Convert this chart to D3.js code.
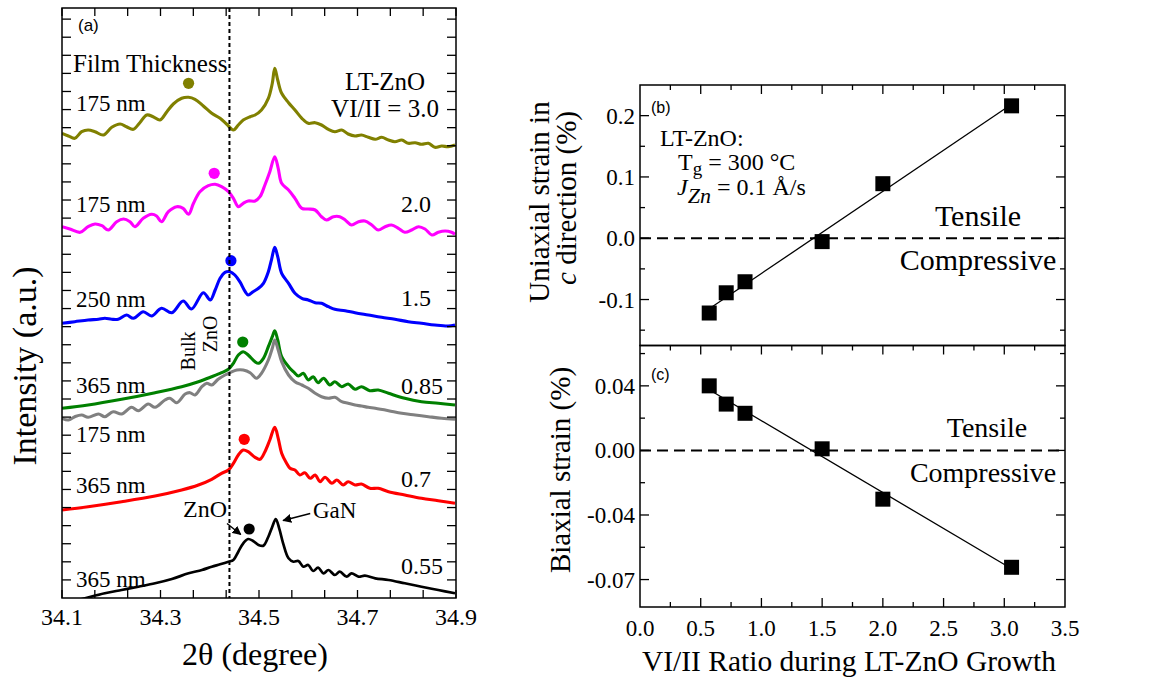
<!DOCTYPE html>
<html>
<head>
<meta charset="utf-8">
<script src="https://cdn.jsdelivr.net/npm/d3@7"></script>
<style>
  body { margin: 0; background: #fff; }
  svg { display: block; }
</style>
</head>
<body>
<svg id="chart" width="1159" height="683"></svg>
<script>
// ---------- (a) XRD 2θ scans of the LT-ZnO films on GaN, offset vertically (a.u.) ----------
const scanVI30 = [[34.100,46.47],[34.113,46.2],[34.126,45.97],[34.140,46.63],[34.153,46.8],[34.167,46.63],[34.184,46.3],[34.201,47.07],[34.218,47.4],[34.231,47.13],[34.245,46.87],[34.258,47.53],[34.272,48.3],[34.285,48.13],[34.299,47.8],[34.313,48.63],[34.326,49.4],[34.343,49.97],[34.357,50.07],[34.370,49.87],[34.387,49.2],[34.404,48.47],[34.421,47.97],[34.434,47.4],[34.448,46.8],[34.458,47.3],[34.468,47.8],[34.482,48.13],[34.492,48.3],[34.505,48.8],[34.519,49.97],[34.527,51.47],[34.532,52.97],[34.538,51.8],[34.546,50.47],[34.560,49.53],[34.573,48.8],[34.587,47.97],[34.600,47.47],[34.614,47.53],[34.627,47.3],[34.641,46.87],[34.654,46.63],[34.668,46.8],[34.681,46.4],[34.695,46.2],[34.708,46.3],[34.722,46.07],[34.736,45.87],[34.749,46.07],[34.763,45.8],[34.776,45.63],[34.790,45.8],[34.803,45.47],[34.817,45.53],[34.830,45.37],[34.844,45.47],[34.857,45.07],[34.871,45.2],[34.884,45.13],[34.898,45.3]];

const scanVI20 = [[34.100,37.13],[34.116,36.9],[34.137,36.57],[34.153,37.13],[34.167,37.4],[34.181,37.23],[34.194,36.8],[34.211,37.63],[34.225,37.9],[34.238,37.63],[34.248,37.13],[34.265,37.97],[34.282,38.37],[34.292,38.2],[34.302,37.63],[34.316,38.63],[34.333,39.13],[34.346,38.97],[34.357,38.37],[34.367,39.47],[34.380,40.63],[34.397,41.23],[34.411,41.37],[34.424,41.13],[34.438,40.63],[34.448,39.97],[34.458,39.13],[34.468,39.47],[34.478,39.7],[34.492,39.7],[34.502,40.13],[34.512,41.3],[34.522,42.63],[34.532,44.13],[34.539,42.97],[34.546,41.47],[34.560,40.8],[34.573,39.97],[34.587,38.97],[34.600,38.9],[34.614,38.8],[34.627,38.13],[34.637,37.8],[34.651,38.13],[34.664,38.13],[34.675,37.8],[34.688,37.3],[34.702,37.63],[34.715,37.7],[34.729,37.3],[34.742,36.8],[34.756,37.13],[34.769,37.3],[34.783,36.97],[34.796,36.57],[34.810,36.8],[34.824,37.13],[34.837,36.9],[34.851,36.3],[34.864,36.57],[34.878,36.7],[34.891,36.57],[34.898,36.37]];

const scanVI15 = [[34.100,27.47],[34.126,27.63],[34.153,27.8],[34.174,27.87],[34.187,27.97],[34.201,27.87],[34.214,27.87],[34.231,28.3],[34.245,27.97],[34.265,28.63],[34.282,28.2],[34.302,28.97],[34.323,28.53],[34.346,29.7],[34.363,28.9],[34.387,30.53],[34.401,29.8],[34.411,30.8],[34.421,31.97],[34.431,32.57],[34.441,32.63],[34.451,32.3],[34.461,31.63],[34.472,30.63],[34.478,30.3],[34.488,30.63],[34.499,30.97],[34.509,31.47],[34.519,32.63],[34.526,33.97],[34.532,35.07],[34.538,34.13],[34.546,32.47],[34.560,31.47],[34.573,30.47],[34.587,29.97],[34.600,29.8],[34.614,29.53],[34.627,29.47],[34.641,29.13],[34.654,28.87],[34.675,28.73],[34.695,28.53],[34.722,28.3],[34.749,28.07],[34.776,27.87],[34.803,27.63],[34.830,27.47],[34.857,27.3],[34.884,27.2],[34.898,27.3]];

const scanVI085 = [[34.100,18.97],[34.153,19.3],[34.221,19.87],[34.289,20.53],[34.343,21.13],[34.377,21.63],[34.404,22.13],[34.424,22.53],[34.438,22.87],[34.448,23.47],[34.458,24.3],[34.468,24.63],[34.478,24.3],[34.492,23.63],[34.499,23.47],[34.509,23.97],[34.519,25.13],[34.527,26.13],[34.532,26.73],[34.538,25.8],[34.546,24.13],[34.560,23.13],[34.570,22.63],[34.580,22.2],[34.590,22.47],[34.600,21.8],[34.610,22.13],[34.620,21.53],[34.631,21.97],[34.644,21.3],[34.654,21.63],[34.668,21.13],[34.681,21.4],[34.695,20.87],[34.708,21.13],[34.725,20.73],[34.742,20.8],[34.763,20.47],[34.796,19.97],[34.830,19.63],[34.864,19.47],[34.898,19.3]];

const scanThin175 = [[34.100,17.97],[34.113,17.8],[34.126,18.13],[34.140,18.3],[34.153,18.07],[34.174,18.4],[34.187,18.13],[34.204,18.63],[34.221,18.4],[34.241,19.07],[34.255,18.73],[34.275,19.4],[34.289,19.07],[34.309,19.8],[34.319,19.97],[34.333,19.53],[34.350,20.4],[34.360,20.53],[34.370,20.3],[34.384,21.13],[34.394,21.47],[34.404,21.3],[34.417,21.87],[34.431,22.3],[34.441,22.53],[34.455,22.8],[34.468,22.8],[34.482,22.53],[34.495,21.97],[34.505,22.47],[34.519,23.8],[34.527,24.97],[34.532,25.8],[34.539,24.8],[34.546,23.63],[34.560,22.3],[34.573,21.63],[34.587,21.3],[34.600,20.97],[34.614,20.47],[34.627,20.13],[34.641,19.97],[34.654,20.07],[34.668,19.63],[34.681,19.47],[34.695,19.3],[34.708,19.2],[34.722,19.07],[34.736,18.97],[34.763,18.73],[34.790,18.47],[34.817,18.3],[34.844,18.13],[34.871,17.97],[34.898,17.87]];

const scanVI07 = [[34.100,8.8],[34.153,9.13],[34.221,9.63],[34.289,10.2],[34.343,10.8],[34.377,11.3],[34.404,11.87],[34.424,12.47],[34.438,12.8],[34.448,13.47],[34.458,14.3],[34.468,14.8],[34.478,14.63],[34.492,14.07],[34.502,13.87],[34.512,14.63],[34.522,15.8],[34.532,17.07],[34.539,15.97],[34.546,14.47],[34.556,13.47],[34.563,12.97],[34.573,12.8],[34.583,12.3],[34.593,12.53],[34.604,11.97],[34.614,12.3],[34.624,11.63],[34.634,12.07],[34.648,11.47],[34.658,11.8],[34.671,11.3],[34.681,11.63],[34.695,11.3],[34.708,11.4],[34.725,10.97],[34.742,10.97],[34.763,10.63],[34.796,10.3],[34.830,9.97],[34.864,9.73],[34.898,9.47]];

const scanVI055 = [[34.126,-0.3],[34.187,0.47],[34.221,0.8],[34.255,1.13],[34.289,1.47],[34.323,1.9],[34.357,2.47],[34.384,2.8],[34.404,3.13],[34.421,3.37],[34.438,3.63],[34.448,3.8],[34.458,4.63],[34.468,5.47],[34.478,5.9],[34.488,5.7],[34.499,5.3],[34.509,5.23],[34.519,6.13],[34.527,7.13],[34.534,7.9],[34.541,6.97],[34.549,5.47],[34.560,3.97],[34.570,3.63],[34.580,3.7],[34.590,3.13],[34.600,3.3],[34.610,2.7],[34.620,3.03],[34.631,2.47],[34.641,2.8],[34.654,2.3],[34.664,2.63],[34.678,2.13],[34.688,2.47],[34.702,2.13],[34.715,2.23],[34.736,1.97],[34.763,1.8],[34.796,1.47],[34.830,1.13],[34.864,0.8],[34.898,0.47]];

// drawing order: green before grey so the grey scan sits on top
const scanList   = [scanVI30, scanVI20, scanVI15, scanVI085, scanThin175, scanVI07, scanVI055];
const scanColors = ["#808000", "#ff00ff", "#0000ff", "#008000", "#808080", "#ff0000", "#000000"];

// ZnO (002) peak markers: position and marker height for each film
const znoPeakTheta  = [34.357, 34.409, 34.443, 34.467, 34.470, 34.480];
const znoPeakMarker = [51.47, 42.47, 33.73, 25.6, 15.87, 6.9];
const markerColors  = ["#808000", "#ff00ff", "#0000ff", "#008000", "#ff0000", "#000000"];

const thicknessLabels = ["175 nm", "175 nm", "250 nm", "365 nm", "175 nm", "365 nm", "365 nm"];
const ratioLabels     = ["2.0", "1.5", "0.85", "0.7", "0.55"];
const bulkZnOTheta    = 34.44;
const thetaLabelTicks = [34.1, 34.3, 34.5, 34.7, 34.9];
const tickStepAU      = 1.809;

// ---------- (b), (c) strain versus VI/II ratio ----------
const ratioVI        = [0.57, 0.71, 0.865, 1.5, 2.0, 3.06];
const uniaxialStrain = [-0.122, -0.089, -0.071, -0.0055, 0.089, 0.216];
const biaxialStrain  = [0.040, 0.0287, 0.023, 0.001, -0.0302, -0.0724];

const ratioTicks      = [0, 0.5, 1.0, 1.5, 2.0, 2.5, 3.0, 3.5];
const ratioMinorTicks = [0.25, 0.75, 1.25, 1.75, 2.25, 2.75, 3.25];
const uniaxialTicks   = [0.2, 0.1, 0, -0.1];
const uniaxialLabels  = ["0.2", "0.1", "0.0", "-0.1"];
const uniaxialMinor   = [0.15, 0.05, -0.05, -0.15];
const biaxialTicks    = [0.04, 0, -0.04, -0.08];
const biaxialLabels   = ["0.04", "0.00", "-0.04", "-0.07"];
const biaxialMinor    = [0.06, 0.02, -0.02, -0.06];

// ---------- layout ----------
const serif = '"Liberation Serif","Times New Roman",serif';
const sans  = '"Liberation Sans",Arial,sans-serif';
const boxA = { left: 62,  right: 456,  top: 8,     bottom: 598 };
const boxB = { left: 640, right: 1065, top: 85,    bottom: 345.5 };
const boxC = { left: 640, right: 1065, top: 345.5, bottom: 607 };

const svg = d3.select("#chart");

function text(g, x, y, str, size, opts = {}) {
  return g.append("text")
    .attr("x", x).attr("y", y)
    .attr("font-family", opts.family || serif)
    .attr("font-size", size)
    .attr("text-anchor", opts.anchor || "start")
    .attr("fill", opts.fill || "#000")
    .text(str);
}
function frame(g, b) {
  g.append("rect").attr("x", b.left).attr("y", b.top)
    .attr("width", b.right - b.left).attr("height", b.bottom - b.top)
    .attr("fill", "none").attr("stroke", "#000").attr("stroke-width", 1.5);
}
function hTicks(g, scale, vals, y, dir, len) {
  g.append("g").selectAll("line").data(vals).join("line")
    .attr("x1", d => scale(d)).attr("x2", d => scale(d))
    .attr("y1", y).attr("y2", y + dir * len)
    .attr("stroke", "#000").attr("stroke-width", 1.3);
}
function vTicks(g, scale, vals, x, dir, len) {
  g.append("g").selectAll("line").data(vals).join("line")
    .attr("y1", d => scale(d)).attr("y2", d => scale(d))
    .attr("x1", x).attr("x2", x + dir * len)
    .attr("stroke", "#000").attr("stroke-width", 1.3);
}

// ================= panel (a) =================
const gA = svg.append("g");
const xA = d3.scaleLinear().domain([34.1, 34.9]).range([boxA.left, boxA.right]);
const yA = d3.scaleLinear().domain([0, 59]).range([boxA.bottom, boxA.top]);

const defs = svg.append("defs");
defs.append("clipPath").attr("id", "clipA")
  .append("rect").attr("x", boxA.left).attr("y", boxA.top)
  .attr("width", boxA.right - boxA.left).attr("height", boxA.bottom - boxA.top);

const scanLine = d3.line()
  .x(d => xA(d[0])).y(d => yA(d[1]))
  .curve(d3.curveCatmullRom.alpha(0.5));

gA.append("g").attr("clip-path", "url(#clipA)")
  .selectAll("path").data(scanList).join("path")
  .attr("d", scanLine)
  .attr("fill", "none")
  .attr("stroke", (d, i) => scanColors[i])
  .attr("stroke-width", (d, i) => i === 6 ? 2.7 : 3.1)
  .attr("stroke-linejoin", "round");

gA.append("g").selectAll("circle").data(znoPeakTheta).join("circle")
  .attr("cx", d => xA(d))
  .attr("cy", (d, i) => yA(znoPeakMarker[i]))
  .attr("r", 5.6)
  .attr("fill", (d, i) => markerColors[i]);

// bulk ZnO reference position
gA.append("line")
  .attr("x1", xA(bulkZnOTheta)).attr("x2", xA(bulkZnOTheta))
  .attr("y1", boxA.top).attr("y2", boxA.bottom)
  .attr("stroke", "#000").attr("stroke-width", 2)
  .attr("stroke-dasharray", "4,3");

// axes of (a)
const thetaTicks = d3.range(0, 13).map(i => 34.1 + i * 0.2 / 3);
const auTicks = d3.range(1, 33).map(k => k * tickStepAU);
hTicks(gA, xA, thetaTicks, boxA.bottom, -1, 8);
hTicks(gA, xA, thetaTicks, boxA.top, 1, 8);
vTicks(gA, yA, auTicks, boxA.left, 1, 9);
vTicks(gA, yA, auTicks, boxA.right, -1, 9);
frame(gA, boxA);

gA.append("g").selectAll("text").data(thetaLabelTicks).join("text")
  .attr("x", d => xA(d)).attr("y", 625)
  .attr("text-anchor", "middle")
  .attr("font-family", serif).attr("font-size", 24)
  .text(d => d.toFixed(1));

text(gA, 255, 665, "2θ (degree)", 32, { anchor: "middle" });
text(gA, 0, 0, "Intensity (a.u.)", 34, { anchor: "middle" })
  .attr("transform", "translate(36,366) rotate(-90)");

// annotations of (a)
text(gA, 78, 31, "(a)", 17, { family: sans });
text(gA, 73, 72, "Film Thickness", 25);
const thicknessY = [111, 212, 307, 393, 442, 493, 587];
thicknessLabels.forEach((t, i) => text(gA, 76, thicknessY[i], t, 23));
text(gA, 385, 90, "LT-ZnO", 25, { anchor: "middle" });
text(gA, 385, 117, "VI/II = 3.0", 25, { anchor: "middle" });
const ratioY = [212, 306, 394, 487, 574];
ratioLabels.forEach((t, i) => text(gA, 401, ratioY[i], t, 24));

text(gA, 0, 0, "Bulk", 20, { anchor: "middle" }).attr("transform", "translate(195,351) rotate(-90)");
text(gA, 0, 0, "ZnO", 20, { anchor: "middle" }).attr("transform", "translate(217,334) rotate(-90)");

text(gA, 205, 517, "ZnO", 24, { anchor: "middle" });
text(gA, 313, 518, "GaN", 23);

defs.append("marker").attr("id", "arrowHead")
  .attr("viewBox", "0 0 10 10").attr("refX", 9).attr("refY", 5)
  .attr("markerWidth", 9).attr("markerHeight", 9)
  .attr("markerUnits", "userSpaceOnUse")
  .attr("orient", "auto")
  .append("path").attr("d", "M0,0 L10,5 L0,10 Z").attr("fill", "#000");

// arrows pointing at the ZnO and GaN reflections of the 0.55 scan
const arrowZnO = [[34.435, 7.45], [34.463, 6.35]];
const arrowGaN = [[34.604, 8.45], [34.549, 7.75]];
[arrowZnO, arrowGaN].forEach(a => {
  gA.append("line")
    .attr("x1", xA(a[0][0])).attr("y1", yA(a[0][1]))
    .attr("x2", xA(a[1][0])).attr("y2", yA(a[1][1]))
    .attr("stroke", "#000").attr("stroke-width", 1.4)
    .attr("marker-end", "url(#arrowHead)");
});

// ================= panels (b) and (c) =================
const xR = d3.scaleLinear().domain([0, 3.5]).range([boxB.left, boxB.right]);
const yB = d3.scaleLinear().domain([-0.175, 0.25]).range([boxB.bottom, boxB.top]);
const yC = d3.scaleLinear().domain([-0.097, 0.065]).range([boxC.bottom, boxC.top]);

function linearFit(xs, ys) {
  const mx = d3.mean(xs), my = d3.mean(ys);
  const sxy = d3.sum(xs, (x, i) => (x - mx) * (ys[i] - my));
  const sxx = d3.sum(xs, x => (x - mx) * (x - mx));
  const slope = sxy / sxx;
  return x => my + slope * (x - mx);
}

function strainPanel(box, yScale, values, majors, labels, minors, tag, tagY, tensile, compressive, fontSize) {
  const g = svg.append("g");
  // zero-strain reference
  g.append("line")
    .attr("x1", box.left).attr("x2", box.right)
    .attr("y1", yScale(0)).attr("y2", yScale(0))
    .attr("stroke", "#000").attr("stroke-width", 2)
    .attr("stroke-dasharray", "11,6");

  const fit = linearFit(ratioVI, values);
  const x0 = d3.min(ratioVI), x1 = d3.max(ratioVI);
  g.append("line")
    .attr("x1", xR(x0)).attr("y1", yScale(fit(x0)))
    .attr("x2", xR(x1)).attr("y2", yScale(fit(x1)))
    .attr("stroke", "#000").attr("stroke-width", 1.3);

  const s = 15;
  g.append("g").selectAll("rect").data(ratioVI).join("rect")
    .attr("x", d => xR(d) - s / 2)
    .attr("y", (d, i) => yScale(values[i]) - s / 2)
    .attr("width", s).attr("height", s)
    .attr("fill", "#000");

  vTicks(g, yScale, majors, box.left, 1, 9);
  vTicks(g, yScale, minors, box.left, 1, 5);
  vTicks(g, yScale, majors, box.right, -1, 9);
  vTicks(g, yScale, minors, box.right, -1, 5);
  hTicks(g, xR, ratioTicks.slice(1, -1), box.top, 1, 9);
  hTicks(g, xR, ratioMinorTicks, box.top, 1, 5);
  frame(g, box);

  g.append("g").selectAll("text").data(majors).join("text")
    .attr("x", box.left - 5).attr("y", d => yScale(d))
    .attr("dy", "0.35em")
    .attr("text-anchor", "end")
    .attr("font-family", serif).attr("font-size", 23)
    .text((d, i) => labels[i]);

  text(g, box.left + 11, tagY, tag, 16, { family: sans });
  text(g, tensile[0], tensile[1], "Tensile", fontSize, { anchor: "middle" });
  text(g, compressive[0], compressive[1], "Compressive", fontSize, { anchor: "middle" });
  return g;
}

const gB = strainPanel(boxB, yB, uniaxialStrain, uniaxialTicks, uniaxialLabels, uniaxialMinor,
  "(b)", 113, [978, 226], [978, 270], 30);
const gC = strainPanel(boxC, yC, biaxialStrain, biaxialTicks, biaxialLabels, biaxialMinor,
  "(c)", 380, [987, 437], [983, 482], 28);

// bottom axis of (c)
hTicks(gC, xR, ratioTicks.slice(1, -1), boxC.bottom, -1, 9);
hTicks(gC, xR, ratioMinorTicks, boxC.bottom, -1, 5);
gC.append("g").selectAll("text").data(ratioTicks).join("text")
  .attr("x", d => xR(d)).attr("y", 636)
  .attr("text-anchor", "middle")
  .attr("font-family", serif).attr("font-size", 23)
  .text(d => d.toFixed(1));
text(gC, 849, 671, "VI/II Ratio during LT-ZnO Growth", 29.5, { anchor: "middle" });

// growth conditions in (b)
text(gB, 660, 146, "LT-ZnO:", 24);
const tg = text(gB, 678, 170, "T", 24);
tg.append("tspan").attr("font-size", 19).attr("dy", 5).text("g");
tg.append("tspan").attr("dy", -5).text(" = 300 °C");
const jz = text(gB, 677, 195, "", 24);
jz.append("tspan").attr("font-style", "italic").text("J");
jz.append("tspan").attr("font-style", "italic").attr("font-size", 22).attr("dy", 8).text("Zn");
jz.append("tspan").attr("dy", -8).text(" = 0.1 Å/s");

// axis titles of (b) and (c)
text(svg, 0, 0, "Uniaxial strain in", 29, { anchor: "middle" })
  .attr("transform", "translate(549,202) rotate(-90)");
const tb2 = text(svg, 0, 0, "", 29, { anchor: "middle" }).attr("transform", "translate(576,198) rotate(-90)");
tb2.append("tspan").attr("font-style", "italic").text("c");
tb2.append("tspan").text(" direction (%)");
text(svg, 0, 0, "Biaxial strain (%)", 29, { anchor: "middle" }).attr("transform", "translate(570,470) rotate(-90)");
</script>
</body>
</html>
